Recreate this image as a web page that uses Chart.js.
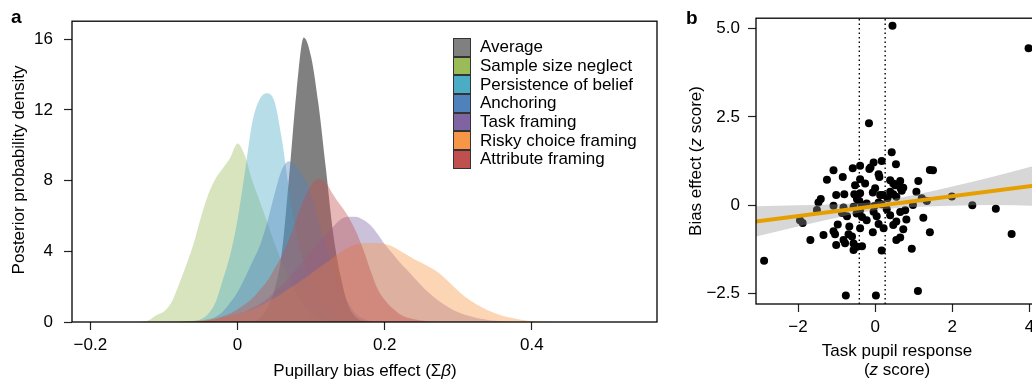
<!DOCTYPE html>
<html>
<head>
<meta charset="utf-8">
<script src="https://cdn.jsdelivr.net/npm/chart.js@4.4.1/dist/chart.umd.min.js"></script>
<style>
body { margin: 0; background: #fff; }
#wrap { position: relative; width: 1032px; height: 385px; overflow: hidden; font-family: "Liberation Sans", Arial, sans-serif; color: #000; }
canvas { position: absolute; top: 0; }
.lbl { position: absolute; white-space: nowrap; font-size: 17px; line-height: 17px; }
.panel { font-weight: bold; font-size: 19px; line-height: 19px; }
.ytitle { transform: translate(-50%, -50%) rotate(-90deg); }
.xtitle { transform: translateX(-50%); }
#legend { position: absolute; left: 453px; top: 38px; }
.row { height: 18.7px; display: flex; align-items: center; font-size: 17px; white-space: nowrap; }
.sw { width: 18px; height: 18.7px; box-sizing: border-box; border: 1px solid #333; margin-right: 9px; }
</style>
</head>
<body>
<div id="wrap">
  <canvas id="densityChart" width="680" height="385" style="left:0;width:680px;height:385px"></canvas>
  <canvas id="pupilChart" width="380" height="385" style="left:680px;width:380px;height:385px"></canvas>

  <div class="lbl panel" style="left:11px;top:7px">a</div>
  <div class="lbl ytitle" style="left:18px;top:170px">Posterior probability density</div>
  <div class="lbl xtitle" style="left:365px;top:362px">Pupillary bias effect (Σ<i>β</i>)</div>
  <div id="legend"></div>

  <div class="lbl panel" style="left:686px;top:8px">b</div>
  <div class="lbl ytitle" style="left:695px;top:161px">Bias effect (<i>z</i> score)</div>
  <div class="lbl xtitle" style="left:897px;top:342px">Task pupil response</div>
  <div class="lbl xtitle" style="left:897px;top:361px">(<i>z</i> score)</div>
</div>

<script>
// ---- panel a: posterior densities ----
var xGrid = [-0.15, -0.14, -0.13, -0.12, -0.11, -0.10, -0.09, -0.08, -0.07, -0.06,
             -0.05, -0.04, -0.03, -0.02, -0.01, 0.00, 0.01, 0.02, 0.03, 0.04,
             0.05, 0.06, 0.07, 0.08, 0.09, 0.10, 0.11, 0.12, 0.13, 0.14,
             0.15, 0.16, 0.17, 0.18, 0.19, 0.20, 0.21, 0.22, 0.23, 0.24,
             0.25, 0.26, 0.27, 0.28, 0.29, 0.30, 0.31, 0.32, 0.33, 0.34,
             0.35, 0.36, 0.37, 0.38, 0.39, 0.40, 0.41, 0.42, 0.43, 0.44, 0.45];

var seriesNames = ['Average', 'Sample size neglect', 'Persistence of belief', 'Anchoring',
                   'Task framing', 'Risky choice framing', 'Attribute framing'];
var seriesColors = ['#808080', '#9BBB59', '#4BACC6', '#4F81BD', '#8064A2', '#F79646', '#C0504D'];

var averageDensity = [0, 0, 0, 0, 0, 0, 0, 0, 0, 0,
                      0, 0, 0, 0, 0, 0, 0, 0.02, 0.2, 0.75,
                      1.8, 3.9, 8.2, 13.0, 16.1, 15.0, 12.3, 8.7, 5.0, 2.6,
                      1.0, 0.3, 0.05, 0, 0, 0, 0, 0, 0, 0,
                      0, 0, 0, 0, 0, 0, 0, 0, 0, 0,
                      0, 0, 0, 0, 0, 0, 0, 0, 0, 0, 0];
var sampleSizeDensity = [0, 0, 0.02, 0.12, 0.4, 0.6, 1.1, 2.1, 3.2, 4.4,
                         5.9, 7.2, 8.1, 8.7, 9.3, 10.1, 9.4, 8.0, 6.85, 5.7,
                         4.5, 3.4, 2.5, 1.6, 0.95, 0.45, 0.2, 0.08, 0.02, 0,
                         0, 0, 0, 0, 0, 0, 0, 0, 0, 0,
                         0, 0, 0, 0, 0, 0, 0, 0, 0, 0,
                         0, 0, 0, 0, 0, 0, 0, 0, 0, 0, 0];
var persistenceDensity = [0, 0, 0, 0, 0, 0, 0, 0, 0.01, 0.05,
                          0.15, 0.45, 1.1, 2.4, 3.8, 5.8, 8.5, 11.3, 12.6, 12.95,
                          12.5, 10.4, 7.5, 5.0, 3.4, 2.3, 1.5, 0.8, 0.4, 0.15,
                          0.05, 0.01, 0, 0, 0, 0, 0, 0, 0, 0,
                          0, 0, 0, 0, 0, 0, 0, 0, 0, 0,
                          0, 0, 0, 0, 0, 0, 0, 0, 0, 0, 0];
var anchoringDensity = [0, 0, 0, 0, 0, 0, 0, 0, 0.01, 0.03,
                        0.08, 0.15, 0.3, 0.6, 1.1, 1.7, 2.5, 3.4, 4.3, 5.6,
                        7.2, 8.6, 9.1, 8.8, 8.2, 7.3, 5.8, 4.3, 3.0, 1.9,
                        1.1, 0.5, 0.2, 0.05, 0, 0, 0, 0, 0, 0,
                        0, 0, 0, 0, 0, 0, 0, 0, 0, 0,
                        0, 0, 0, 0, 0, 0, 0, 0, 0, 0, 0];
var taskFramingDensity = [0, 0, 0, 0, 0, 0, 0, 0, 0, 0.02,
                          0.05, 0.1, 0.15, 0.25, 0.35, 0.45, 0.6, 0.8, 1.0, 1.3,
                          1.7, 2.1, 2.5, 3.0, 3.5, 4.0, 4.5, 4.95, 5.4, 5.8,
                          5.95, 5.95, 5.8, 5.5, 5.0, 4.4, 3.9, 3.4, 2.95, 2.5,
                          2.05, 1.65, 1.3, 1.0, 0.75, 0.55, 0.4, 0.28, 0.18, 0.12,
                          0.07, 0.04, 0.02, 0, 0, 0, 0, 0, 0, 0, 0];
var riskyChoiceDensity = [0, 0, 0, 0, 0, 0, 0.02, 0.03, 0.05, 0.07,
                          0.1, 0.14, 0.2, 0.27, 0.35, 0.45, 0.58, 0.72, 0.9, 1.12,
                          1.35, 1.6, 1.9, 2.15, 2.45, 2.75, 3.05, 3.35, 3.65, 3.95,
                          4.2, 4.38, 4.45, 4.47, 4.47, 4.42, 4.28, 4.05, 3.8, 3.55,
                          3.35, 3.12, 2.88, 2.55, 2.15, 1.75, 1.4, 1.12, 0.88, 0.66,
                          0.5, 0.36, 0.25, 0.17, 0.1, 0.05, 0.03, 0.01, 0, 0, 0];
var attributeDensity = [0, 0, 0, 0, 0, 0, 0, 0, 0.01, 0.02,
                        0.04, 0.1, 0.2, 0.32, 0.48, 0.72, 1.0, 1.35, 1.8, 2.3,
                        3.0, 3.75, 4.7, 5.8, 6.9, 7.75, 8.1, 7.9, 7.2, 6.6,
                        6.0, 5.2, 4.2, 3.0, 1.9, 1.25, 0.8, 0.45, 0.25, 0.15,
                        0.08, 0.04, 0.02, 0, 0, 0, 0, 0, 0, 0,
                        0, 0, 0, 0, 0, 0, 0, 0, 0, 0, 0];

var xTickValsA = [-0.2, 0, 0.2, 0.4];
var xTickLabelsA = ['\u22120.2', '0', '0.2', '0.4'];
var yTickValsA = [0, 4, 8, 12, 16];
var yTickLabelsA = ['0', '4', '8', '12', '16'];

// ---- panel b: scatter ----
var pupilX = [0.45, 3.98, -0.16, -2.88, -0.76, 0.02, 1.11, 1.99, 2.52, 3.13,
              3.54, 0.43, -0.04, 0.17, -0.39, -0.15, -0.12, 0.54, -1.08, -0.58,
              1.42, 1.50, 0.09, 0.11, -1.25, -0.84, -0.39, -0.26, 0.39, 0.65,
              0.52, 1.12, -0.52, 0.00, 0.73, 0.39, -0.06, -0.39, -1.01, -0.80,
              -0.48, 0.20, 1.07, 0.55, -1.41, -1.47, -0.41, 0.09, 0.32, 1.21,
              1.34, -1.08, -0.82, -0.34, -0.02, 0.17, 0.98, -1.51, -1.95, -1.88,
              -0.48, -0.73, -0.34, 0.04, 0.39, 0.65, 0.78, 0.09, 0.55, 0.81,
              1.25, -0.97, -0.67, -0.39, -0.06, 0.22, 0.47, -1.08, -1.34, -1.04,
              -0.69, 0.73, 0.55, 0.65, 1.42, -1.68, -1.01, -0.82, -0.56, -0.56,
              -0.34, 0.17, 0.95, -0.22, -0.86, -0.56, -0.22, 0.30, -0.60, -0.78,
              -0.47, 0.47, 0.62, 0.66, 0.69, -0.54, 0.13, 0.47, -0.47, -0.39, -0.04];
var biasY = [5.08, 4.44, 2.32, -1.57, -2.55, -2.55, -2.42, 0.25, 0.00, -0.10,
             -0.81, 1.50, 1.21, 1.25, 1.12, 1.03, 1.07, 1.16, 0.99, 1.05,
             1.00, 0.99, 0.88, 0.80, 0.72, 0.80, 0.74, 0.62, 0.71, 0.69,
             0.57, 0.69, 0.57, 0.48, 0.50, 0.38, 0.36, 0.34, 0.29, 0.31,
             0.24, 0.29, 0.38, 0.24, 0.18, 0.08, 0.12, 0.08, 0.20, 0.20,
             0.12, -0.01, -0.06, 0.00, -0.02, 0.03, 0.01, -0.13, -0.42, -0.50,
             -0.23, -0.31, -0.33, -0.31, -0.28, -0.19, -0.14, -0.53, -0.46, -0.40,
             -0.35, -0.54, -0.60, -0.65, -0.76, -0.65, -0.56, -0.73, -0.84, -0.82,
             -0.82, -0.68, -0.98, -0.91, -0.76, -0.98, -1.12, -0.98, -1.08, -1.26,
             -1.16, -1.28, -1.23, -0.42, -0.22, -0.04, 0.05, -0.11, -0.88, -1.07,
             -1.17, 0.62, 0.60, 0.48, 0.41, 0.31, 0.29, 0.31, 0.17, -0.13, -0.18];

var regX = [-3.2, 4.3];
var regY = [-0.47, 0.58];
var bandX = [-3.2, -2, -1, 0, 1, 2, 3, 4.3];
var bandUpper = [-0.03, 0.00, 0.03, 0.10, 0.29, 0.53, 0.79, 1.17];
var bandLower = [-0.91, -0.60, -0.35, -0.14, -0.05, -0.01, 0.01, -0.02];
var splitX = [-0.41, 0.26];
var yRangeB = [-2.79, 5.29];

var xTickValsB = [-2, 0, 2, 4];
var xTickLabelsB = ['\u22122', '0', '2', '4'];
var yTickValsB = [-2.5, 0, 2.5, 5];
var yTickLabelsB = ['\u22122.5', '0', '2.5', '5.0'];

Chart.defaults.font.family = '"Liberation Sans", Arial, sans-serif';
Chart.defaults.font.size = 17;
Chart.defaults.color = '#000';

function rgba(hex, a) {
    var n = parseInt(hex.slice(1), 16);
    return 'rgba(' + (n >> 16) + ',' + ((n >> 8) & 255) + ',' + (n & 255) + ',' + a + ')';
}

function fixedTicks(vals) {
    return function(scale) {
        scale.ticks = vals.map(function(v) { return { value: v }; });
    };
}

// plot frame (R-style box round the plotting region)
var frameBox = {
    id: 'frameBox',
    afterDatasetsDraw: function(chart) {
        var a = chart.chartArea, ctx = chart.ctx;
        ctx.save();
        ctx.strokeStyle = '#000';
        ctx.lineWidth = 1.3;
        ctx.strokeRect(a.left, a.top, a.right - a.left, a.bottom - a.top);
        ctx.restore();
    }
};

function axisOpts(min, max, vals, labels, size, pad) {
    return {
        type: 'linear', min: min, max: max,
        afterBuildTicks: fixedTicks(vals),
        afterFit: function(s) { if (s.isHorizontal()) s.height = size; else s.width = size; },
        ticks: { autoSkip: false, maxRotation: 0, padding: pad,
                 callback: function(v, i) { return labels[i]; } },
        grid: { drawOnChartArea: false, drawTicks: true, tickLength: 8, tickColor: '#222', tickWidth: 1.2 },
        border: { display: false }
    };
}

var densitySets = [averageDensity, sampleSizeDensity, persistenceDensity, anchoringDensity,
                   taskFramingDensity, riskyChoiceDensity, attributeDensity];

new Chart(document.getElementById('densityChart'), {
    type: 'line',
    data: {
        datasets: densitySets.map(function(ys, i) {
            return {
                label: seriesNames[i],
                data: xGrid.map(function(x, j) { return { x: x, y: ys[j] }; }),
                fill: 'origin',
                backgroundColor: rgba(seriesColors[i], i === 0 ? 1 : 0.4),
                borderColor: 'rgba(0,0,0,0)',
                borderWidth: 0,
                pointRadius: 0,
                cubicInterpolationMode: 'monotone',
                order: densitySets.length - i   // Average underneath, the rest laid over it
            };
        })
    },
    options: {
        responsive: false,
        animation: false,
        layout: { padding: { top: 18, right: 23, left: 0, bottom: 0 } },
        plugins: { legend: { display: false }, tooltip: { enabled: false } },
        scales: {
            x: axisOpts(-0.225, 0.57, xTickValsA, xTickLabelsA, 63, 5),
            y: axisOpts(0, 17.02, yTickValsA, yTickLabelsA, 72, 11)
        }
    },
    plugins: [frameBox]
});

// legend for panel a
var legend = document.getElementById('legend');
seriesNames.forEach(function(name, i) {
    var row = document.createElement('div');
    row.className = 'row';
    row.innerHTML = '<div class="sw" style="background:' + seriesColors[i] + '"></div>' + name;
    legend.appendChild(row);
});

var pupilSets = [{
    type: 'scatter',
    data: pupilX.map(function(x, i) { return { x: x, y: biasY[i] }; }),
    backgroundColor: '#000',
    borderWidth: 0,
    pointRadius: 4,
    order: 4
}, {
    type: 'line',
    data: bandX.map(function(x, i) { return { x: x, y: bandUpper[i] }; }),
    fill: '+1',
    backgroundColor: 'rgba(150,150,150,0.38)',
    borderColor: 'rgba(0,0,0,0)',
    borderWidth: 0,
    pointRadius: 0,
    cubicInterpolationMode: 'monotone',
    clip: 0,
    order: 3
}, {
    type: 'line',
    data: bandX.map(function(x, i) { return { x: x, y: bandLower[i] }; }),
    fill: false,
    borderColor: 'rgba(0,0,0,0)',
    borderWidth: 0,
    pointRadius: 0,
    cubicInterpolationMode: 'monotone',
    clip: 0,
    order: 3
}, {
    type: 'line',
    data: regX.map(function(x, i) { return { x: x, y: regY[i] }; }),
    fill: false,
    borderColor: '#E69F00',
    borderWidth: 4,
    pointRadius: 0,
    clip: 0,
    order: 1
}];
splitX.forEach(function(x) {
    pupilSets.push({
        type: 'line',
        data: [{ x: x, y: yRangeB[0] }, { x: x, y: yRangeB[1] }],
        fill: false,
        borderColor: '#000',
        borderWidth: 1.4,
        borderDash: [1.5, 3],
        pointRadius: 0,
        order: 5
    });
});

new Chart(document.getElementById('pupilChart'), {
    type: 'scatter',
    data: { datasets: pupilSets },
    options: {
        responsive: false,
        animation: false,
        layout: { padding: { top: 18, right: 21, left: 0, bottom: 0 } },
        plugins: { legend: { display: false }, tooltip: { enabled: false } },
        scales: {
            x: axisOpts(-3.09, 4.25, xTickValsB, xTickLabelsB, 81, 5),
            y: axisOpts(yRangeB[0], yRangeB[1], yTickValsB, yTickLabelsB, 76, 8)
        }
    },
    plugins: [frameBox]
});
</script>
</body>
</html>
